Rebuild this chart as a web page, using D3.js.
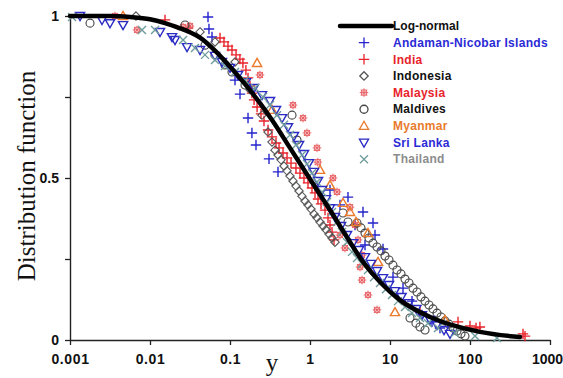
<!DOCTYPE html>
<html>
<head>
<meta charset="utf-8">
<script src="https://cdn.jsdelivr.net/npm/d3@7"></script>
<style>
  body { margin: 0; background: #fff; }
  svg { display: block; }
</style>
</head>
<body>
<div id="chart"></div>
<script>
// x = y value (log axis), F = distribution function
var xTicks = [0.001, 0.01, 0.1, 1, 10, 100, 1000];
var xTickLabels = ["0.001", "0.01", "0.1", "1", "10", "100", "1000"];
var yTicks = [0, 0.25, 0.5, 0.75, 1];
var yTickLabels = ["0", "", "0.5", "", "1"];

var lognormal = [[0.001, 1.0], [0.00316, 1.0], [0.00562, 0.997], [0.01, 0.99], [0.0154, 0.978],
  [0.0237, 0.962], [0.0316, 0.95], [0.0422, 0.933], [0.0649, 0.893], [0.109, 0.833], [0.237, 0.731],
  [0.335, 0.679], [0.562, 0.593], [1.223, 0.463], [1.778, 0.401], [2.738, 0.327], [4.597, 0.241],
  [7.5, 0.179], [13.34, 0.123], [31.62, 0.071], [133.4, 0.025], [421.7, 0.009]];

var andaman = [[0.0531, 0.997], [0.0546, 0.96], [0.0596, 0.935], [0.1155, 0.802], [0.1334, 0.759],
  [0.168, 0.685], [0.188, 0.639], [0.2113, 0.602], [0.3073, 0.559], [0.3981, 0.519], [1.778, 0.463],
  [2.371, 0.417], [2.985, 0.441], [3.652, 0.355], [4.597, 0.395], [4.87, 0.293], [6.131, 0.361],
  [6.494, 0.324], [8.175, 0.281], [10.9, 0.194], [14.54, 0.16], [18.84, 0.12], [25.12, 0.077],
  [33.5, 0.056], [42.17, 0.037]];

var india = [[0.0154, 0.988], [0.0299, 0.963], [0.075, 0.932], [0.0841, 0.92], [0.0944, 0.907],
  [0.1059, 0.895], [0.119, 0.88], [0.133, 0.867], [0.145, 0.855], [0.158, 0.833], [0.168, 0.809],
  [0.178, 0.784], [0.188, 0.762], [0.2, 0.741], [0.218, 0.719], [0.244, 0.698], [0.266, 0.676],
  [0.299, 0.648], [0.335, 0.627], [0.376, 0.608], [0.41, 0.593], [0.46, 0.577], [0.516, 0.562],
  [0.579, 0.546], [0.668, 0.531], [0.75, 0.515], [0.841, 0.5], [0.944, 0.485], [1.059, 0.469],
  [1.155, 0.454], [1.259, 0.435], [1.373, 0.42], [1.54, 0.401], [1.679, 0.377], [1.778, 0.355],
  [1.884, 0.333], [1.995, 0.309], [23.7, 0.086], [70.8, 0.056], [100, 0.043], [118.9, 0.037],
  [133, 0.04], [459.7, 0.019], [487, 0.012]];

var indonesia = [[0.00668, 1.0], [0.0422, 0.951], [0.0649, 0.92], [0.1155, 0.858], [0.178, 0.772],
  [0.251, 0.694], [0.299, 0.642], [0.335, 0.611], [0.365, 0.586], [0.398, 0.571], [0.434, 0.556],
  [0.473, 0.537], [0.516, 0.522], [0.562, 0.506], [0.613, 0.491], [0.668, 0.475], [0.729, 0.46],
  [0.794, 0.444], [0.866, 0.429], [0.944, 0.417], [1.029, 0.404], [1.122, 0.389], [1.223, 0.377],
  [1.334, 0.364], [1.454, 0.352], [1.585, 0.34], [1.728, 0.327], [1.884, 0.315], [2.054, 0.302]];

var malaysia = [[0.00365, 1.0], [0.00688, 0.957], [0.0259, 0.966], [0.0316, 0.969], [0.237, 0.818],
  [0.613, 0.725], [0.818, 0.685], [0.917, 0.639], [1.223, 0.593], [1.25, 0.549], [1.939, 0.5],
  [2.175, 0.457], [3.162, 0.41], [2.371, 0.324], [2.738, 0.284], [3.652, 0.355], [3.981, 0.309],
  [4.467, 0.262], [4.217, 0.225], [4.467, 0.185], [5.309, 0.139], [6.879, 0.093]];

var maldives = [[0.00178, 0.978], [0.0274, 0.972], [0.0487, 0.91], [0.0649, 0.88], [0.0866, 0.849],
  [0.1059, 0.827], [0.154, 0.787], [0.596, 0.694], [0.688, 0.617], [2.585, 0.392], [2.985, 0.364],
  [3.868, 0.361], [4.34, 0.346], [4.87, 0.33], [5.464, 0.315], [6.131, 0.299], [6.879, 0.287],
  [7.718, 0.275], [8.66, 0.259], [9.716, 0.247], [10.9, 0.231], [12.23, 0.216], [13.73, 0.204],
  [15.4, 0.188], [17.28, 0.176], [19.39, 0.16], [21.75, 0.148], [24.41, 0.133], [27.38, 0.12],
  [30.73, 0.108], [34.47, 0.096], [38.68, 0.083], [43.4, 0.071], [48.7, 0.059], [54.64, 0.049],
  [61.31, 0.037], [68.79, 0.028], [77.18, 0.019], [86.6, 0.012], [17.78, 0.068], [21.1, 0.052],
  [23.7, 0.04], [27.4, 0.031]];

var myanmar = [[0.0046, 1.0], [0.218, 0.855], [0.335, 0.71], [1.334, 0.525], [1.778, 0.478],
  [2.585, 0.423], [3.162, 0.395], [3.758, 0.364], [5.309, 0.33], [7.08, 0.241], [11.55, 0.086],
  [48.7, 0.062]];

var sriLanka = [[0.001334, 1.0], [0.002512, 0.988], [0.003162, 0.978], [0.0046, 0.972], [0.01334, 0.951],
  [0.01884, 0.935], [0.02054, 0.926], [0.02901, 0.904], [0.0422, 0.895], [0.0649, 0.877], [0.0794, 0.858],
  [0.1, 0.84], [0.1259, 0.818], [0.1585, 0.796], [0.1995, 0.778], [0.2512, 0.756], [0.3162, 0.738],
  [0.3758, 0.71], [0.4467, 0.685], [0.5309, 0.657], [0.631, 0.63], [0.729, 0.602], [0.841, 0.574],
  [0.972, 0.546], [1.122, 0.519], [1.259, 0.491], [1.413, 0.463], [1.585, 0.435], [1.778, 0.407],
  [2.054, 0.38], [2.441, 0.352], [2.901, 0.324], [3.447, 0.299], [4.097, 0.278], [4.87, 0.256],
  [5.788, 0.235], [6.879, 0.213], [8.175, 0.191], [9.716, 0.17], [11.55, 0.151], [13.96, 0.133],
  [17.28, 0.114], [21.38, 0.096], [25.12, 0.077], [31.62, 0.062], [38.68, 0.046], [47.32, 0.031],
  [56.23, 0.019]];

var thailand = [[0.00106, 0.997], [0.00794, 0.957], [0.01155, 0.957], [0.0259, 0.926], [0.0365, 0.901],
  [0.0487, 0.88], [0.0649, 0.864], [0.0866, 0.846], [0.1155, 0.827], [0.154, 0.802], [0.2054, 0.778],
  [0.2585, 0.75], [0.3162, 0.725], [0.3868, 0.694], [0.4732, 0.664], [0.5623, 0.633], [0.6683, 0.602],
  [0.7943, 0.571], [0.9173, 0.543], [1.059, 0.515], [1.223, 0.488], [1.413, 0.457], [1.631, 0.426],
  [1.884, 0.395], [2.175, 0.364], [2.512, 0.333], [2.901, 0.302], [3.35, 0.272], [3.868, 0.253],
  [4.467, 0.235], [5.309, 0.216], [6.31, 0.194], [7.499, 0.176], [8.913, 0.157], [10.59, 0.139],
  [12.59, 0.12], [15.4, 0.102], [18.84, 0.083], [23.71, 0.068], [29.85, 0.052], [39.81, 0.037],
  [65.0, 0.022], [115.5, 0.012], [217.5, 0.006]];

var seriesNames = ["Andaman-Nicobar Islands", "India", "Indonesia", "Malaysia", "Maldives", "Myanmar", "Sri Lanka", "Thailand"];
var seriesData = [andaman, india, indonesia, malaysia, maldives, myanmar, sriLanka, thailand];
var markerColors = ["#2424cc", "#e8232b", "#555", "#e65a5e", "#444", "#ea7a2c", "#2a2ac4", "#6f9c9c"];
var textColors = ["#2a2ad6", "#e8232b", "#111", "#e8232b", "#111", "#ea7a2c", "#2a2ad6", "#8c8c8c"];
var shapes = ["plus", "plus", "diamond", "star", "circle", "triangle", "triangleDown", "times"];

var width = 563, height = 378;

var svg = d3.select("#chart").append("svg")
    .attr("width", width)
    .attr("height", height);

var x = d3.scaleLog().domain([0.001, 1000]).range([70, 550]);
var y = d3.scaleLinear().domain([0, 1]).range([340, 16]);

// marker shapes, centered at 0,0
function shapePath(type) {
    var p = d3.path(), r;
    if (type === "plus") {
        r = 5.2;
        p.moveTo(-r, 0); p.lineTo(r, 0); p.moveTo(0, -r); p.lineTo(0, r);
    } else if (type === "times") {
        r = 4;
        p.moveTo(-r, -r); p.lineTo(r, r); p.moveTo(-r, r); p.lineTo(r, -r);
    } else if (type === "diamond") {
        r = 4.2;
        p.moveTo(0, -r); p.lineTo(r, 0); p.lineTo(0, r); p.lineTo(-r, 0); p.closePath();
    } else if (type === "circle") {
        r = 4;
        p.arc(0, 0, r, 0, 2 * Math.PI);
    } else if (type === "triangle") {
        r = 4.6;
        p.moveTo(0, -r); p.lineTo(r, r * 0.75); p.lineTo(-r, r * 0.75); p.closePath();
    } else if (type === "triangleDown") {
        r = 4.6;
        p.moveTo(0, r); p.lineTo(r, -r * 0.75); p.lineTo(-r, -r * 0.75); p.closePath();
    } else if (type === "star") {
        r = 4.3;
        p.moveTo(-r, 0); p.lineTo(r, 0); p.moveTo(0, -r); p.lineTo(0, r);
        p.moveTo(-r * 0.7, -r * 0.7); p.lineTo(r * 0.7, r * 0.7);
        p.moveTo(-r * 0.7, r * 0.7); p.lineTo(r * 0.7, -r * 0.7);
        p.rect(-2.6, -2.6, 5.2, 5.2);
    }
    return p.toString();
}

// axes
var xAxis = svg.append("g")
    .attr("transform", "translate(0,340)")
    .call(d3.axisBottom(x).tickValues(xTicks)
        .tickFormat(function (d, i) { return xTickLabels[i]; })
        .tickSize(5).tickSizeOuter(0).tickPadding(9));

var yAxis = svg.append("g")
    .attr("transform", "translate(70,0)")
    .call(d3.axisLeft(y).tickValues(yTicks)
        .tickFormat(function (d, i) { return yTickLabels[i]; })
        .tickSize(5).tickSizeOuter(0).tickPadding(6));

[xAxis, yAxis].forEach(function (ax) {
    ax.select(".domain").attr("stroke", "#222").attr("stroke-width", 1.4);
    ax.selectAll(".tick line").attr("stroke", "#222").attr("stroke-width", 1.3);
    ax.selectAll(".tick text")
        .attr("fill", "#111")
        .style("font-family", "'Liberation Sans', Arial, sans-serif")
        .style("font-weight", "bold")
        .style("font-size", "14px");
});
xAxis.selectAll(".tick text").style("letter-spacing", "0.6px");
// last label sits at the right edge of the picture
xAxis.selectAll(".tick text").filter(function (d) { return d === 1000; })
    .style("letter-spacing", "0px")
    .attr("dx", "-3");

// axis titles
svg.append("text")
    .attr("transform", "translate(35,176) rotate(-90)")
    .attr("text-anchor", "middle")
    .style("font-family", "'Liberation Serif', 'Times New Roman', serif")
    .style("font-size", "25px")
    .attr("fill", "#111")
    .text("Distribution function");

svg.append("text")
    .attr("x", 272)
    .attr("y", 371)
    .attr("text-anchor", "middle")
    .style("font-family", "'Liberation Serif', 'Times New Roman', serif")
    .style("font-size", "25px")
    .attr("fill", "#111")
    .text("y");

// scatter points
var pts = svg.append("g").attr("class", "points");
seriesData.forEach(function (data, i) {
    pts.append("g")
        .selectAll("path")
        .data(data)
        .enter().append("path")
        .attr("d", shapePath(shapes[i]))
        .attr("transform", function (d) { return "translate(" + x(d[0]) + "," + y(d[1]) + ")"; })
        .attr("fill", "none")
        .attr("stroke", markerColors[i])
        .attr("stroke-width", shapes[i] === "star" ? 0.9 : (shapes[i] === "diamond" || shapes[i] === "circle" ? 1.1 : 1.4));
});

// log-normal fit
var line = d3.line()
    .x(function (d) { return x(d[0]); })
    .y(function (d) { return y(d[1]); })
    .curve(d3.curveMonotoneX);

svg.append("path")
    .datum(lognormal)
    .attr("d", line)
    .attr("fill", "none")
    .attr("stroke", "#000")
    .attr("stroke-width", 4.5)
    .attr("stroke-linecap", "round");

// legend
var legend = svg.append("g").attr("class", "legend");
var rowH = 16.65;
legend.append("line")
    .attr("x1", 340).attr("x2", 392)
    .attr("y1", 26).attr("y2", 26)
    .attr("stroke", "#000").attr("stroke-width", 4.5)
    .attr("stroke-linecap", "round");
legend.append("text")
    .attr("x", 393).attr("y", 26).attr("dy", "0.35em")
    .style("font-family", "'Liberation Sans', Arial, sans-serif")
    .style("font-weight", "bold").style("font-size", "12px")
    .attr("fill", "#111")
    .text("Log-normal");

seriesNames.forEach(function (name, i) {
    var ly = 26 + (i + 1) * rowH;
    legend.append("path")
        .attr("d", shapePath(shapes[i]))
        .attr("transform", "translate(364," + ly + ")")
        .attr("fill", "none")
        .attr("stroke", markerColors[i])
        .attr("stroke-width", shapes[i] === "star" ? 0.9 : 1.3);
    legend.append("text")
        .attr("x", 393).attr("y", ly).attr("dy", "0.35em")
        .style("font-family", "'Liberation Sans', Arial, sans-serif")
        .style("font-weight", "bold").style("font-size", "12px")
        .style("letter-spacing", "0.3px")
        .attr("fill", textColors[i])
        .text(name);
});
</script>
</body>
</html>
